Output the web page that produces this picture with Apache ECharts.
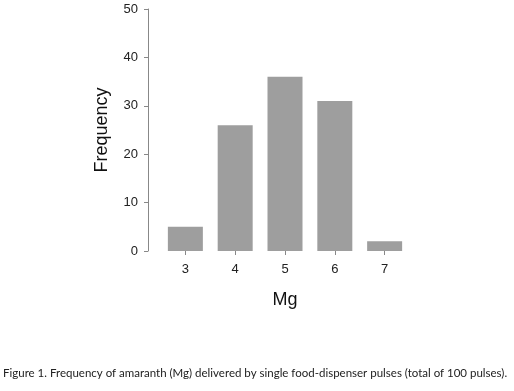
<!DOCTYPE html>
<html lang="en" style="height: 100%">
<head>
<meta charset="utf-8">
<title>Frequency of amaranth</title>
</head>
<body style="height: 100%; margin: 0; background: #fff">
<div id="container" style="height: 100%"></div>
<script type="text/javascript" src="https://cdn.jsdelivr.net/npm/echarts/dist/echarts.min.js"></script>
<script type="text/javascript">
var dom = document.getElementById('container');
var myChart = echarts.init(dom);

// Data
var mgValues = [3, 4, 5, 6, 7];
var frequency = [5, 26, 36, 31, 2];
var yTicks = [0, 10, 20, 30, 40, 50];

var barData = mgValues.map(function (mg, i) {
    return [mg, frequency[i]];
});

var option = {
    backgroundColor: '#ffffff',
    animation: false,
    grid: {
        left: 148,
        top: 9,
        bottom: 140,
        right: 92
    },
    xAxis: {
        type: 'value',
        min: 2.25,
        max: 7.75,
        name: 'Mg',
        nameLocation: 'middle',
        nameGap: 40,
        nameTextStyle: {
            fontFamily: 'Liberation Sans',
            fontSize: 18,
            color: '#111'
        },
        splitLine: { show: false },
        axisLine: { show: false },
        axisTick: {
            show: true,
            length: 4,
            customValues: mgValues,
            lineStyle: { color: '#888' }
        },
        axisLabel: {
            customValues: mgValues,
            margin: 12,
            fontFamily: 'Liberation Sans',
            fontSize: 13,
            color: '#222'
        }
    },
    yAxis: {
        type: 'value',
        min: yTicks[0],
        max: yTicks[yTicks.length - 1],
        interval: 10,
        name: 'Frequency',
        nameLocation: 'middle',
        nameGap: 37,
        nameTextStyle: {
            fontFamily: 'Liberation Sans',
            fontSize: 18,
            color: '#111'
        },
        splitLine: { show: false },
        axisLine: { show: true, lineStyle: { color: '#888' } },
        axisTick: { show: true, length: 4, lineStyle: { color: '#888' } },
        axisLabel: {
            margin: 10,
            fontFamily: 'Liberation Sans',
            fontSize: 13,
            color: '#222'
        }
    },
    series: [{
        type: 'bar',
        barWidth: 35,
        itemStyle: { color: '#9e9e9e' },
        data: barData
    }],
    graphic: [{
        type: 'text',
        left: 3,
        top: 367,
        style: {
            text: 'Figure 1. Frequency of amaranth (Mg) delivered by single food-dispenser pulses (total of 100 pulses).',
            font: '11.5px Lato',
            fill: '#222'
        }
    }]
};

if (option && typeof option === 'object') {
    myChart.setOption(option);
}

window.addEventListener('resize', myChart.resize);
</script>
</body>
</html>
